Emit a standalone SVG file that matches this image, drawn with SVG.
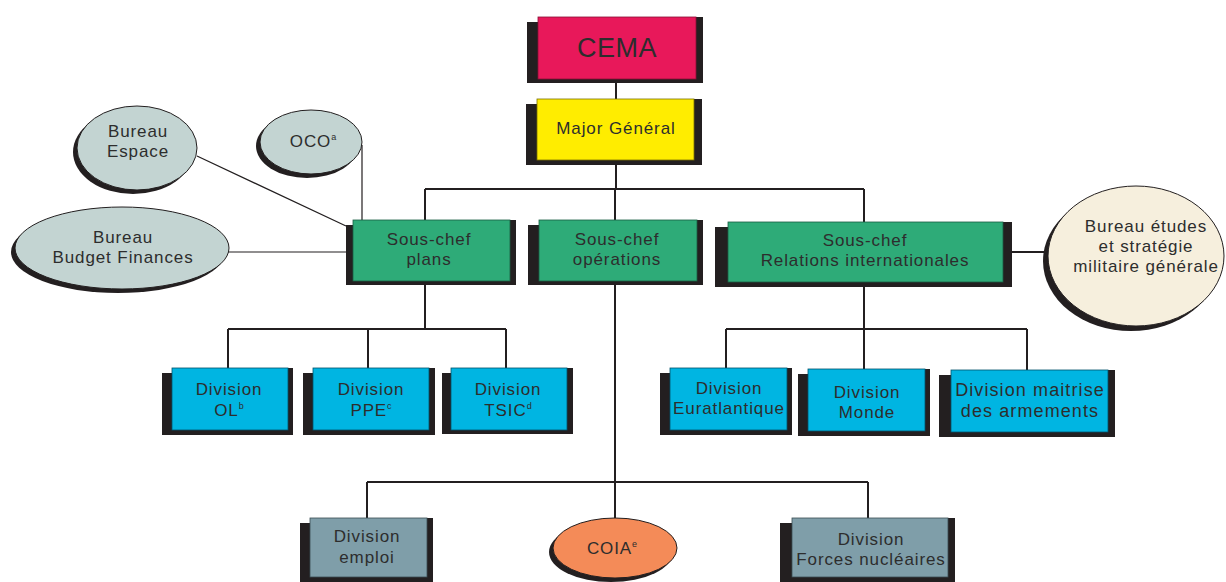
<svg xmlns="http://www.w3.org/2000/svg" width="1226" height="582" viewBox="0 0 1226 582">
<style>
.sh{fill:#231f20}
.t{font-family:"Liberation Sans",Arial,sans-serif;font-size:17px;letter-spacing:0.9px;fill:#2d2d2d;text-anchor:middle}
.sup{font-size:9px;letter-spacing:0}
.ln{stroke:#231f20;stroke-width:2;fill:none}
.lt{stroke:#231f20;stroke-width:1.2;fill:none}
.red{fill:#e8185a;stroke:#8a0f36;stroke-width:0.8}
.yel{fill:#ffed00;stroke:#7a7000;stroke-width:0.8}
.grn{fill:#2eab78;stroke:#1b5e43;stroke-width:0.8}
.cyn{fill:#00b5e2;stroke:#00536b;stroke-width:0.8}
.sla{fill:#7f9ea9;stroke:#3b4d53;stroke-width:0.8}
.org{fill:#f48b58;stroke:#231f20;stroke-width:1}
.gry{fill:#c3d4d2;stroke:#231f20;stroke-width:1}
.crm{fill:#f6efdd;stroke:#231f20;stroke-width:1}
</style>
<g id="connectors">
<path class="ln" d="M616 83V99M616 165V189M425 189H864M425 189V220M615 189V220M864 189V222"/>
<path class="ln" d="M615 285V518M367 482H868M367 482V518M868 482V518"/>
<path class="ln" d="M425 285V329M228 329H506M228 329V368M368 329V368M506 329V368"/>
<path class="ln" d="M864 287V329M726 329H1027M726 329V368M864 329V369M1027 329V370"/>
<path class="lt" d="M362 145V220M197 156L346 226M228 252H346"/>
<path class="ln" d="M1012 252H1048"/>
</g>
<g id="cema">
<rect class="sh" x="527" y="22" width="176" height="61"/><rect class="sh" x="696" y="17" width="7" height="6"/>
<rect class="red" x="538" y="17" width="158" height="62"/>
<text class="t" x="617" y="57" style="font-size:27px;letter-spacing:0.5px">CEMA</text>
</g>
<g id="major-general">
<rect class="sh" x="526" y="104" width="176" height="61"/><rect class="sh" x="694" y="99" width="8" height="6"/>
<rect class="yel" x="537" y="99" width="157" height="61"/>
<text class="t" x="616" y="134">Major Général</text>
</g>
<g id="sc-plans">
<rect class="sh" x="346" y="225" width="170" height="60"/><rect class="sh" x="510" y="220" width="6" height="6"/>
<rect class="grn" x="353" y="220" width="157" height="61"/>
<text class="t" x="429" y="245">Sous-chef</text><text class="t" x="429" y="265">plans</text>
</g>
<g id="sc-operations">
<rect class="sh" x="528" y="225" width="175" height="60"/><rect class="sh" x="697" y="220" width="6" height="6"/>
<rect class="grn" x="539" y="220" width="158" height="61"/>
<text class="t" x="617" y="245">Sous-chef</text><text class="t" x="617" y="265">opérations</text>
</g>
<g id="sc-ri">
<rect class="sh" x="715" y="227" width="297" height="60"/><rect class="sh" x="1003" y="222" width="9" height="6"/>
<rect class="grn" x="728" y="222" width="275" height="60"/>
<text class="t" x="865" y="246">Sous-chef</text><text class="t" x="865" y="266">Relations internationales</text>
</g>
<g id="bureau-espace">
<ellipse class="sh" cx="133" cy="152" rx="60" ry="42"/>
<ellipse class="gry" cx="137" cy="148" rx="60" ry="42"/>
<text class="t" x="138" y="137">Bureau</text><text class="t" x="138" y="157">Espace</text>
</g>
<g id="oco">
<ellipse class="sh" cx="307" cy="146" rx="51" ry="32"/>
<ellipse class="gry" cx="311" cy="142" rx="51" ry="32"/>
<text class="t" x="313" y="147">OCO<tspan class="sup" dy="-7">a</tspan></text>
</g>
<g id="bureau-budget">
<ellipse class="sh" cx="118" cy="252" rx="107" ry="41"/>
<ellipse class="gry" cx="122" cy="248" rx="107" ry="41"/>
<text class="t" x="123" y="243">Bureau</text><text class="t" x="123" y="263">Budget Finances</text>
</g>
<g id="bureau-etudes">
<ellipse class="sh" cx="1131" cy="261" rx="88" ry="70"/>
<ellipse class="crm" cx="1136" cy="256" rx="88" ry="70"/>
<text class="t" x="1146" y="232">Bureau études</text><text class="t" x="1146" y="252">et stratégie</text><text class="t" x="1146" y="272">militaire générale</text>
</g>
<g id="div-ol">
<rect class="sh" x="162" y="373" width="131" height="62"/><rect class="sh" x="288" y="368" width="5" height="6"/>
<rect class="cyn" x="172" y="368" width="116" height="62"/>
<text class="t" x="229" y="395">Division</text><text class="t" x="229" y="416">OL<tspan class="sup" dy="-7">b</tspan></text>
</g>
<g id="div-ppe">
<rect class="sh" x="303" y="373" width="132" height="62"/><rect class="sh" x="429" y="368" width="6" height="6"/>
<rect class="cyn" x="313" y="368" width="116" height="62"/>
<text class="t" x="371" y="395">Division</text><text class="t" x="371" y="416">PPE<tspan class="sup" dy="-7">c</tspan></text>
</g>
<g id="div-tsic">
<rect class="sh" x="442" y="373" width="131" height="61"/><rect class="sh" x="567" y="368" width="6" height="6"/>
<rect class="cyn" x="451" y="368" width="116" height="62"/>
<text class="t" x="508" y="395">Division</text><text class="t" x="508" y="416">TSIC<tspan class="sup" dy="-7">d</tspan></text>
</g>
<g id="div-euratlantique">
<rect class="sh" x="660" y="373" width="132" height="62"/><rect class="sh" x="787" y="368" width="5" height="6"/>
<rect class="cyn" x="670" y="368" width="117" height="62"/>
<text class="t" x="729" y="394">Division</text><text class="t" x="729" y="414">Euratlantique</text>
</g>
<g id="div-monde">
<rect class="sh" x="798" y="374" width="132" height="62"/><rect class="sh" x="925" y="369" width="5" height="6"/>
<rect class="cyn" x="808" y="369" width="117" height="62"/>
<text class="t" x="867" y="398">Division</text><text class="t" x="867" y="418">Monde</text>
</g>
<g id="div-maitrise">
<rect class="sh" x="939" y="375" width="176" height="62"/><rect class="sh" x="1108" y="370" width="7" height="6"/>
<rect class="cyn" x="951" y="370" width="157" height="62"/>
<text class="t" x="1030" y="396" style="font-size:18px;letter-spacing:1.1px">Division maitrise</text><text class="t" x="1030" y="417" style="font-size:18px;letter-spacing:1.1px">des armements</text>
</g>
<g id="div-emploi">
<rect class="sh" x="300" y="523" width="133" height="59"/><rect class="sh" x="427" y="518" width="6" height="6"/>
<rect class="sla" x="310" y="518" width="117" height="59"/>
<text class="t" x="367" y="542">Division</text><text class="t" x="367" y="563">emploi</text>
</g>
<g id="coia">
<ellipse class="sh" cx="611" cy="552" rx="62" ry="30"/>
<ellipse class="org" cx="615" cy="548" rx="62" ry="30"/>
<text class="t" x="612" y="554">COIA<tspan class="sup" dy="-7">e</tspan></text>
</g>
<g id="div-forces">
<rect class="sh" x="780" y="523" width="175" height="59"/><rect class="sh" x="948" y="518" width="7" height="6"/>
<rect class="sla" x="792" y="518" width="156" height="59"/>
<text class="t" x="871" y="545">Division</text><text class="t" x="871" y="565">Forces nucléaires</text>
</g>
</svg>
